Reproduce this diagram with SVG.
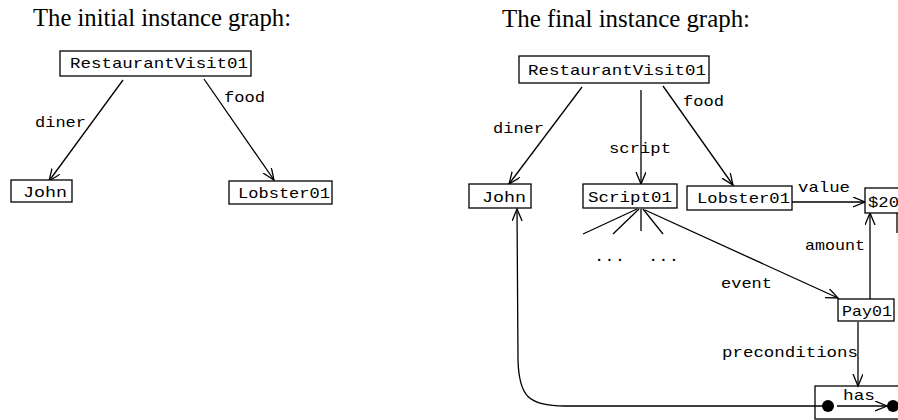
<svg xmlns="http://www.w3.org/2000/svg" width="898" height="420" viewBox="0 0 898 420">
<style>
.title{font-family:"Liberation Serif","Times New Roman",serif;font-size:24.5px;fill:#000}
.m{font-family:"Liberation Mono","Courier New",monospace;font-size:15px;fill:#000}
.box{fill:#fff;stroke:#000;stroke-width:1.3}
.e{fill:none;stroke:#000;stroke-width:1.3}
.a{marker-end:url(#arr)}
</style>
<defs>
<marker id="arr" markerUnits="userSpaceOnUse" markerWidth="14" markerHeight="12" refX="12" refY="5" orient="auto">
<path d="M0,0 L12,5 L0,10" fill="none" stroke="#000" stroke-width="1.3"/>
</marker>
</defs>
<rect width="898" height="420" fill="#fff"/>
<text class="title" x="33" y="26" textLength="258" lengthAdjust="spacingAndGlyphs">The initial instance graph:</text>
<text class="title" x="502" y="27" textLength="248" lengthAdjust="spacingAndGlyphs">The final instance graph:</text>

<g id="connectors">
<line class="e a" x1="123" y1="80" x2="49" y2="181"/>
<line class="e a" x1="204" y1="79" x2="274" y2="180"/>
<line class="e a" x1="582" y1="87" x2="509" y2="184"/>
<line class="e a" x1="641" y1="90" x2="641" y2="184"/>
<line class="e a" x1="663" y1="86" x2="733" y2="185"/>
<line class="e a" x1="792" y1="202" x2="865" y2="202"/>
<line class="e a" x1="870" y1="299" x2="870" y2="213"/>
<line class="e a" x1="645" y1="210" x2="838" y2="298"/>
<line class="e a" x1="858" y1="322" x2="858" y2="386"/>
<line class="e" x1="897" y1="213" x2="897" y2="233"/>
<line class="e" x1="637" y1="209" x2="583" y2="234"/>
<line class="e" x1="639" y1="209" x2="613" y2="234"/>
<line class="e" x1="641" y1="209" x2="641" y2="231"/>
<line class="e" x1="643" y1="209" x2="663" y2="234"/>
<line class="e a" x1="837" y1="406" x2="887" y2="406"/>
<path class="e a" d="M828,406 L565,406 C528,406 519,396 518,360 L517,209"/>
<text class="m" x="35" y="127" textLength="51" lengthAdjust="spacingAndGlyphs">diner</text>
<text class="m" x="224" y="102" textLength="41" lengthAdjust="spacingAndGlyphs">food</text>
<text class="m" x="493" y="133" textLength="51" lengthAdjust="spacingAndGlyphs">diner</text>
<text class="m" x="609" y="153" textLength="62" lengthAdjust="spacingAndGlyphs">script</text>
<text class="m" x="683" y="106" textLength="41" lengthAdjust="spacingAndGlyphs">food</text>
<text class="m" x="798" y="192" textLength="52" lengthAdjust="spacingAndGlyphs">value</text>
<text class="m" x="805" y="250" textLength="60" lengthAdjust="spacingAndGlyphs">amount</text>
<text class="m" x="721" y="288" textLength="51" lengthAdjust="spacingAndGlyphs">event</text>
<text class="m" x="722" y="357" textLength="136" lengthAdjust="spacingAndGlyphs">preconditions</text>
<text class="m" x="594" y="261" textLength="31" lengthAdjust="spacingAndGlyphs">...</text>
<text class="m" x="648" y="261" textLength="31" lengthAdjust="spacingAndGlyphs">...</text>
</g>

<g id="rv1"><rect class="box" x="60" y="51" width="191" height="25"/><text class="m" x="70" y="68" textLength="178" lengthAdjust="spacingAndGlyphs">RestaurantVisit01</text></g>
<g id="john1"><rect class="box" x="11" y="180" width="61" height="22"/><text class="m" x="23" y="197" textLength="44" lengthAdjust="spacingAndGlyphs">John</text></g>
<g id="lobster1"><rect class="box" x="229" y="181" width="103" height="23"/><text class="m" x="238" y="198" textLength="92" lengthAdjust="spacingAndGlyphs">Lobster01</text></g>

<g id="rv2"><rect class="box" x="519" y="56" width="190" height="27"/><text class="m" x="528" y="75" textLength="178" lengthAdjust="spacingAndGlyphs">RestaurantVisit01</text></g>
<g id="john2"><rect class="box" x="469" y="184" width="62" height="24"/><text class="m" x="482" y="202" textLength="44" lengthAdjust="spacingAndGlyphs">John</text></g>
<g id="script01"><rect class="box" x="583" y="184" width="94" height="24"/><text class="m" x="588" y="202" textLength="84" lengthAdjust="spacingAndGlyphs">Script01</text></g>
<g id="lobster2"><rect class="box" x="687" y="186" width="105" height="24"/><text class="m" x="697" y="203" textLength="93" lengthAdjust="spacingAndGlyphs">Lobster01</text></g>
<g id="d20"><rect class="box" x="865" y="188" width="45" height="25"/><text class="m" x="868" y="207" textLength="31" lengthAdjust="spacingAndGlyphs">$20</text></g>
<g id="pay01"><rect class="box" x="838" y="299" width="56" height="22"/><text class="m" x="842" y="316" textLength="50" lengthAdjust="spacingAndGlyphs">Pay01</text></g>
<g id="has"><rect x="815" y="386" width="95" height="33" fill="none" stroke="#000" stroke-width="1.3"/><text class="m" x="843" y="400" textLength="32" lengthAdjust="spacingAndGlyphs">has</text>
<circle cx="828" cy="406" r="6" fill="#000"/><circle cx="893" cy="406" r="6" fill="#000"/></g>
</svg>
